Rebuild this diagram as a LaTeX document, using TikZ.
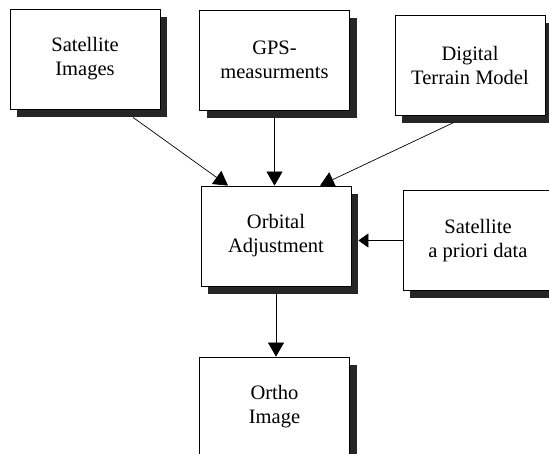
\documentclass[tikz,border=0pt]{standalone}
\usepackage{fontspec}
\setmainfont{Liberation Serif}
\usetikzlibrary{arrows.meta,shadows}

\begin{document}
\begin{tikzpicture}[x=1pt,y=-1pt,
    box/.style={draw, fill=white, line width=0.8pt,
      minimum width=150pt, minimum height=100pt, align=center,
      font=\fontsize{20.5}{24}\selectfont,
      drop shadow={shadow xshift=7pt, shadow yshift=-8pt, fill=black!85, opacity=1}},
    flow/.style={line width=0.7pt, -{Triangle[length=14pt,width=16pt]}}]
      \useasboundingbox (0,0) rectangle (549,454);
      \clip (0,0) rectangle (549,454);
      %\draw [help lines] (0,0) grid[step=50] (549,454);
      \node[box] (satimg) at (85,59) {Satellite\\Images};
      \node[box] (gps) at (274.5,60) {GPS-\\measurments};
      \node[box] (dtm) at (470,65) {Digital\\Terrain Model};
      \node[box] (orbit) at (276,236) {Orbital\\Adjustment};
      \node[box] (apriori) at (478,240.5) {Satellite\\a priori data};
      \node[box] (ortho) at (274.5,407) {Ortho\\Image};

      \draw[flow] ([shift={(48,8)}]satimg.south) to ([xshift=-48pt]orbit.north);
      \draw[flow] ([yshift=-7pt]gps.south) to (gps.south |- orbit.north);
      \draw[flow] ([shift={(-16,7)}]dtm.south) to ([xshift=44pt]orbit.north);
      \draw[line width=0.7pt, -{Triangle[length=10pt,width=14pt]}]
        (apriori.west) to ([xshift=7pt]orbit.east |- apriori.west);
      \draw[flow] ([yshift=-8pt]orbit.south) to (orbit.south |- ortho.north);
    \end{tikzpicture}
\end{document}
